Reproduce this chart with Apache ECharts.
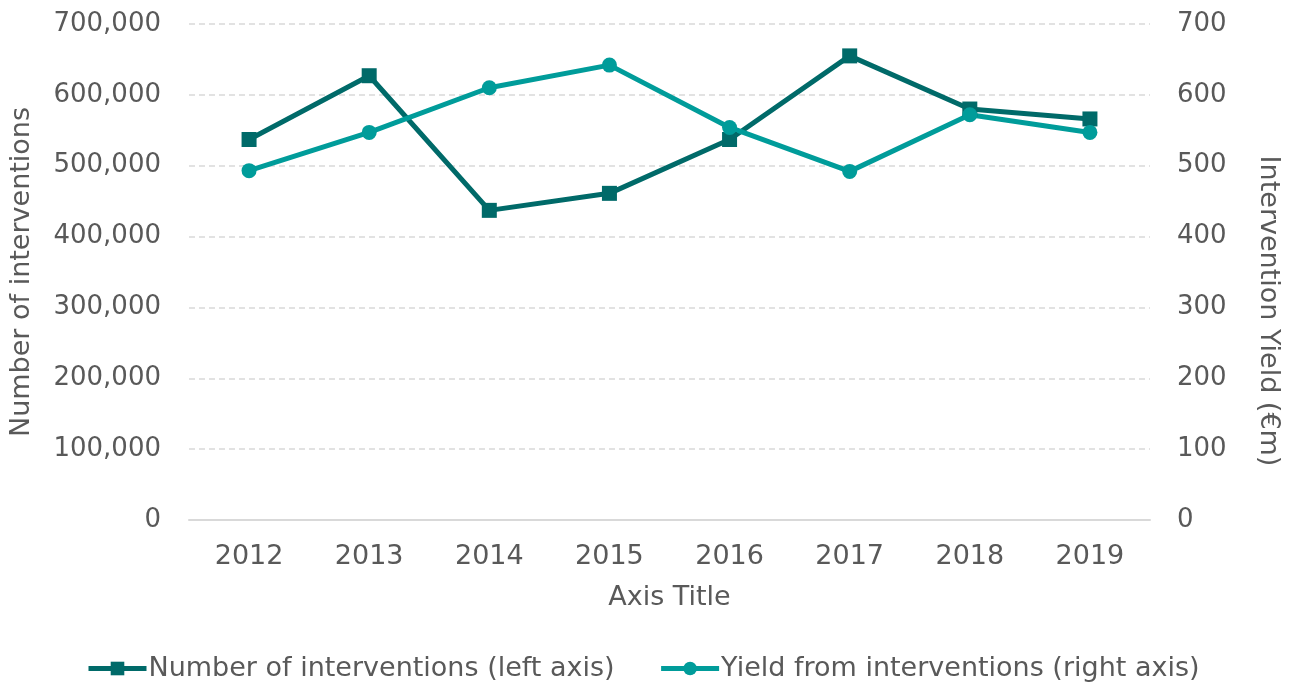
<!DOCTYPE html>
<html>
<head>
<meta charset="utf-8">
<script src="https://cdn.jsdelivr.net/npm/echarts@6/dist/echarts.min.js"></script>
<style>html,body{margin:0;padding:0;background:#fff}#c{width:1295px;height:684px}</style>
</head>
<body>
<div id="c"></div>
<script>
var years = ['2012','2013','2014','2015','2016','2017','2018','2019'];
var interventions = [537000, 627000, 437000, 461000, 537000, 655000, 580000, 566000];
var yieldEm = [493, 547, 610, 642, 554, 492, 572, 547];
var leftTicks = [0, 100000, 200000, 300000, 400000, 500000, 600000, 700000];
var rightTicks = [0, 100, 200, 300, 400, 500, 600, 700];

var FONT = 'DejaVu Sans';
var FS = 27;
var TXT = '#595959';
var DARK = '#006A69';
var TEAL = '#009C9A';

var chart = echarts.init(document.getElementById('c'));
chart.setOption({
  animation: false,
  textStyle: { fontFamily: FONT, color: TXT },
  grid: { left: 188, right: 145, top: 24, bottom: 164, containLabel: false },
  legend: {
    top: 655, left: 86, padding: 0,
    itemWidth: 58, itemHeight: 17, itemGap: 44,
    lineStyle: { width: 5 },
    textStyle: { fontFamily: FONT, fontSize: FS, color: TXT, padding: [0, 0, 0, -3] },
    data: ['Number of interventions (left axis)', 'Yield from interventions (right axis)']
  },
  xAxis: {
    type: 'category', data: years,
    name: 'Axis Title', nameLocation: 'middle', nameGap: 64,
    nameTextStyle: { fontFamily: FONT, fontSize: FS, color: TXT },
    axisLine: { lineStyle: { color: '#D9D9D9', width: 2 } },
    axisTick: { show: false },
    axisLabel: { fontFamily: FONT, fontSize: FS, color: TXT, margin: 23 }
  },
  yAxis: [{
    type: 'value', min: leftTicks[0], max: leftTicks[leftTicks.length - 1], interval: 100000,
    name: 'Number of interventions', nameLocation: 'middle', nameGap: 154,
    nameTextStyle: { fontFamily: FONT, fontSize: FS, color: TXT },
    axisLine: { show: false }, axisTick: { show: false },
    axisLabel: { fontFamily: FONT, fontSize: 26, color: TXT, margin: 28,
      formatter: function (v) { return v.toLocaleString('en-US'); } },
    splitLine: { lineStyle: { color: '#D9D9D9', type: [6, 4], width: 1.5 } }
  }, {
    type: 'value', min: rightTicks[0], max: rightTicks[rightTicks.length - 1], interval: 100,
    axisLine: { show: false }, axisTick: { show: false },
    axisLabel: { fontFamily: FONT, fontSize: 26, color: TXT, margin: 27 },
    splitLine: { show: false }
  }],
  graphic: [{
    type: 'text', x: 1268, y: 311, rotation: -Math.PI / 2,
    style: { text: 'Intervention Yield (€m)', fontFamily: FONT, fontSize: FS, fill: TXT,
      align: 'center', verticalAlign: 'middle' }
  }],
  series: [{
    name: 'Number of interventions (left axis)', type: 'line', yAxisIndex: 0,
    data: interventions, symbol: 'rect', symbolSize: 15,
    lineStyle: { color: DARK, width: 5 }, itemStyle: { color: DARK }
  }, {
    name: 'Yield from interventions (right axis)', type: 'line', yAxisIndex: 1,
    data: yieldEm, symbol: 'circle', symbolSize: 15,
    lineStyle: { color: TEAL, width: 5 }, itemStyle: { color: TEAL }
  }]
});
</script>
</body>
</html>
